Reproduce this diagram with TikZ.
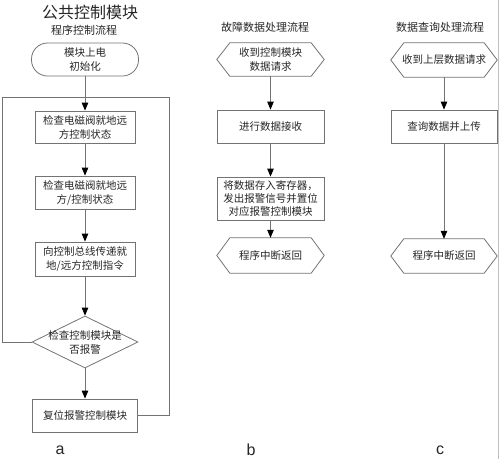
\documentclass[tikz,border=0pt]{standalone}
\usepackage{fontspec}
\setmainfont{Noto Sans CJK SC}
\newfontfamily\latinfont{Liberation Sans}
\usetikzlibrary{shapes.geometric,arrows.meta}
\newcommand\hexpath[1]{\draw[lc] ([xshift=13pt]#1.north west) -- ([xshift=-13pt]#1.north east) -- (#1.east) -- ([xshift=-13pt]#1.south east) -- ([xshift=13pt]#1.south west) -- (#1.west) -- cycle;}
\begin{document}
\begin{tikzpicture}[x=1pt,y=-1pt,
  lc/.style={draw=black!55, line width=0.8pt},
  txt/.style={text=black!85, align=center, font=\fontsize{10.5}{14}\selectfont, inner sep=0},
  box/.style={lc, txt, rectangle},
  hexnode/.style={txt, rectangle, minimum width=107, minimum height=34},
  arr/.style={lc, -{Triangle[length=8pt,width=6.5pt,color=black]}},
  lab/.style={text=black!85, font=\latinfont\fontsize{16}{18}\selectfont, inner sep=0},
  head/.style={text=black!85, font=\fontsize{11}{13}\selectfont, inner sep=0}
]
\useasboundingbox (0,0) rectangle (500,459);
\draw[draw=black!25, line width=0.8pt] (498.5,0) -- (498.5,459);

% column a
\node[text=black!85, font=\fontsize{16}{18}\selectfont, inner sep=0] (title) at (90,12) {公共控制模块};
\node[head] (ha) at (84,30) {程序控制流程};
\node[box, rounded corners=16pt, minimum width=107, minimum height=33] (start) at (85,59.5) {模块上电\\初始化};
\node[box, minimum width=100, minimum height=32] (a1) at (85,127) {检查电磁阀就地远\\方控制状态};
\node[box, minimum width=100, minimum height=33] (a2) at (85,192.5) {检查电磁阀就地远\\方/控制状态};
\node[box, minimum width=100, minimum height=34] (a3) at (85,259) {向控制总线传递就\\地/远方控制指令};
\node[lc, diamond, minimum width=106, minimum height=52, inner sep=0] (dec) at (85,342) {};
\node[txt] (dect) at (dec) {检查控制模块是\\否报警};
\node[box, minimum width=105, minimum height=33] (reset) at (85,415.5) {复位报警控制模块};
\coordinate (lt) at (2,97);
\coordinate (rt) at (169,97);
\coordinate (jn) at (85,97);
\draw[arr] (start) -- (a1);
\draw[arr] (a1) -- (a2);
\draw[arr] (a2) -- (a3);
\draw[arr] (a3) -- (dec);
\draw[arr] (dec) -- (reset);
\draw[lc] (dec.west) -- (dec.west -| lt) -- (lt) -- (jn);
\draw[lc] (reset.east) -- (reset.east -| rt) -- (rt) -- (jn);
\node[lab] (la) at (60,450) {a};

% column b
\node[head] (hb) at (265,27) {故障数据处理流程};
\node[hexnode, minimum height=33] (b0) at (270.5,59.5) {收到控制模块\\数据请求};
\hexpath{b0}
\node[box, minimum width=107, minimum height=33] (b1) at (270.5,126.5) {进行数据接收};
\node[box, minimum width=107, minimum height=43, font=\fontsize{10.5}{13}\selectfont] (b2) at (270.5,198.5) {将数据存入寄存器，\\发出报警信号并置位\\对应报警控制模块};
\node[hexnode, minimum height=35] (b3) at (270.5,255.5) {程序中断返回};
\hexpath{b3}
\draw[arr] (b0) -- (b1);
\draw[arr] (b1) -- (b2);
\draw[arr] (b2) -- (b3);
\node[lab] (lb) at (251,450) {b};

% column c
\node[head] (hc) at (440,27) {数据查询处理流程};
\node[hexnode, minimum width=106] (c0) at (444,60) {收到上层数据请求};
\hexpath{c0}
\node[box, minimum width=106, minimum height=33] (c1) at (444,126.5) {查询数据并上传};
\node[hexnode, minimum width=106] (c2) at (444,256) {程序中断返回};
\hexpath{c2}
\draw[arr] (c0) -- (c1);
\draw[arr] (c1) -- (c2);
\node[lab] (lc) at (440,450) {c};
\end{tikzpicture}
\end{document}
